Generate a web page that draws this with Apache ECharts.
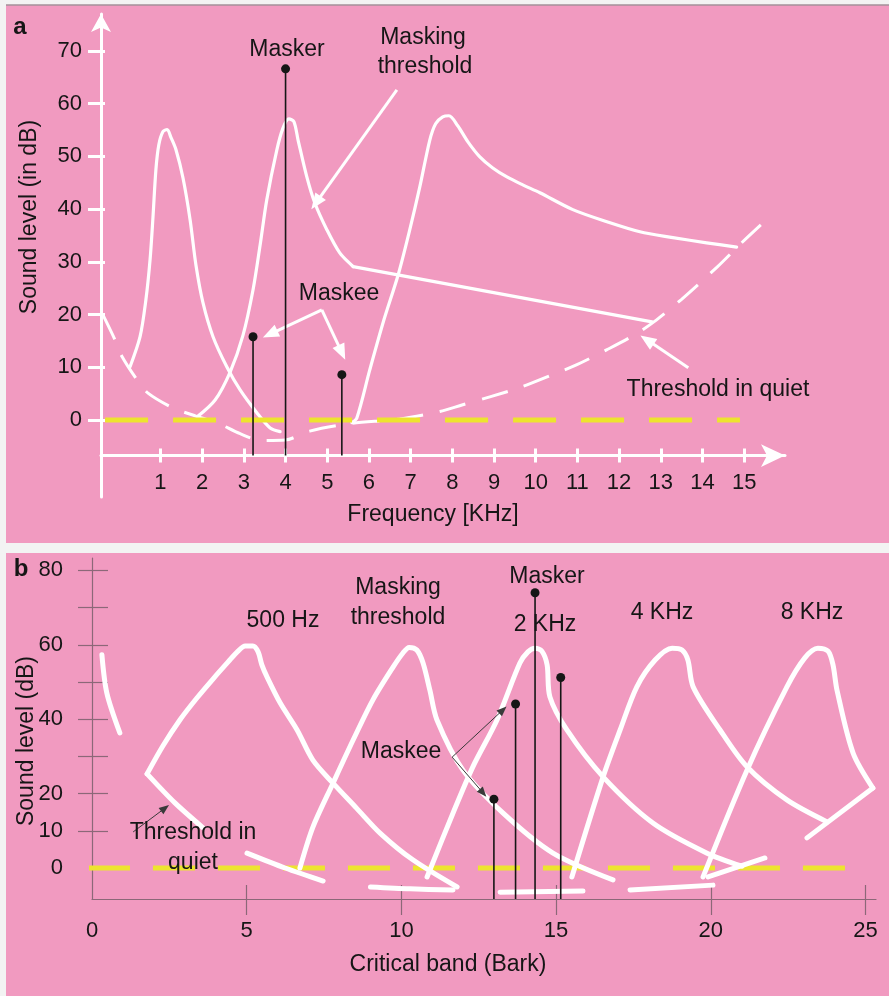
<!DOCTYPE html>
<html>
<head>
<meta charset="utf-8">
<script src="https://cdn.jsdelivr.net/npm/echarts@6/dist/echarts.min.js"></script>
<style>
  html, body { margin: 0; padding: 0; background: #f3f3f3; }
  #chart { width: 889px; height: 996px; }
</style>
</head>
<body>
<div id="chart"></div>
<script>
// ---------- Panel a: masking in the frequency domain (kHz / dB) ----------
const aXTicks = [1, 2, 3, 4, 5, 6, 7, 8, 9, 10, 11, 12, 13, 14, 15];
const aYTicks = [0, 10, 20, 30, 40, 50, 60, 70];
const aYMin = -14.6, aYMax = 77.0, aXMin = -0.427, aXMax = 15.98;
const aAxisFloor = -6.75;               // level at which the frequency axis is drawn

const aThresholdQuiet = [[-0.38, 19.95], [-0.09, 15.2], [0.08, 12.0], [0.44, 7.6], [0.70, 5.1], [1.30, 2.3],
  [1.83, 0.8], [2.35, -0.5], [2.91, -2.6], [3.43, -3.9], [3.99, -3.8], [4.58, -2.1], [5.54, -0.7], [6.74, 0.2],
  [7.70, 1.6], [8.25, 2.9], [8.90, 4.4], [9.60, 6.1], [10.34, 8.4], [10.99, 10.5], [11.70, 13.3], [12.38, 16.2],
  [12.90, 19.0], [13.50, 22.9], [14.35, 29.0], [14.90, 33.3], [15.40, 37.0]];
const aMask1k = [[0.27, 10.1], [0.51, 15.8], [0.65, 22.8], [0.75, 30.4], [0.82, 38.5], [0.89, 47.5], [0.96, 52.2],
  [1.06, 54.7], [1.16, 55.1], [1.25, 53.6], [1.37, 51.3], [1.54, 45.9], [1.71, 38.0], [1.85, 29.4], [2.02, 22.2],
  [2.26, 15.8], [2.59, 10.1], [2.91, 5.7], [3.31, 1.4], [3.63, -1.5], [3.87, -2.2]];
const aMask4kPeak = [[1.88, 0.6], [2.31, 3.8], [2.67, 9.1], [2.98, 16.1], [3.22, 24.7], [3.39, 33.2], [3.55, 41.8],
  [3.79, 51.2], [3.94, 55.4], [4.08, 57.1], [4.20, 56.6], [4.30, 53.1], [4.51, 46.1], [4.70, 41.2], [4.99, 36.1],
  [5.30, 31.7], [5.62, 29.1]];
const aMask4kTail = [[5.62, 29.1], [12.79, 18.6]];
const aMask8k = [[5.59, -0.5], [5.71, 0.4], [6.02, 9.5], [6.36, 19.0], [6.70, 27.5], [6.98, 36.1], [7.22, 44.2],
  [7.46, 53.1], [7.60, 56.2], [7.77, 57.5], [7.92, 57.7], [8.13, 55.8], [8.37, 52.8], [8.66, 49.9], [8.97, 47.8],
  [9.31, 46.1], [9.69, 44.6], [10.10, 43.1], [10.89, 39.9], [11.71, 37.6], [12.50, 35.7], [13.29, 34.6],
  [14.10, 33.6], [14.82, 32.8]];
const aZeroLine = [[-0.33, 0], [14.9, 0]];
const aMasker = [4.0, 66.6];
const aMaskees = [[3.22, 15.8], [5.35, 8.6]];
const aArrows = [
  [[6.67, 62.6], [4.73, 41.2]],     // "Masking threshold"
  [[4.87, 20.9], [3.63, 16.3]],     // "Maskee", left branch
  [[4.87, 20.9], [5.35, 12.8]],     // "Maskee", right branch
  [[13.66, 9.9], [12.67, 15.2]]     // "Threshold in quiet"
];

// ---------- Panel b: masking on the critical band scale (Bark / dB) ----------
const bXTicks = [5, 10, 15, 20, 25];
const bXLabels = [0, 5, 10, 15, 20, 25];
const bYTicks = [10, 20, 30, 40, 50, 60, 70, 80];
const bYLabels = [0, 10, 20, 40, 60, 80];
const bXMin = 0, bXMax = 25.34, bYMin = -8.33, bYMax = 83.33;

const bThresholdPieces = [
  [[0.32, 57.3], [0.48, 47.0], [0.90, 36.3]],
  [[1.78, 25.3], [2.68, 17.5], [3.59, 10.8]],
  [[5.01, 4.0], [6.24, 0.0], [7.47, -3.5]],
  [[9.00, -5.1], [10.28, -5.6], [11.67, -5.9]],
  [[13.19, -6.5], [15.87, -6.2]],
  [[17.39, -5.9], [20.07, -4.6]],
  [[19.91, -2.4], [21.75, 2.7]],
  [[23.11, 8.1], [25.24, 21.5]]
];
const bMask500 = [[1.78, 25.3], [2.29, 32.8], [2.84, 39.8], [3.39, 45.7], [3.91, 50.8], [4.40, 55.4], [4.72, 58.3],
  [4.95, 59.7], [5.20, 59.7], [5.37, 58.1], [5.49, 54.6], [5.66, 51.3], [6.08, 44.4], [6.63, 37.1], [7.14, 29.0],
  [7.79, 22.8], [8.55, 16.1], [9.31, 9.4], [10.37, 2.2], [11.80, -5.1]];
const bMask1k = [[6.72, 0.0], [7.14, 11.0], [7.79, 22.8], [8.44, 34.4], [9.08, 45.2], [9.73, 54.0], [10.05, 57.8],
  [10.25, 59.3], [10.50, 58.6], [10.70, 55.1], [10.92, 47.8], [11.15, 39.8], [11.99, 26.3], [13.28, 14.8], [14.90, 4.0], [16.84, -3.2]];
const bMask2k = [[10.83, -2.4], [11.67, 14.8], [12.31, 27.2], [13.09, 39.8], [13.83, 55.1], [14.09, 58.1], [14.32, 59.1],
  [14.54, 58.3], [14.71, 54.6], [14.80, 46.0], [15.35, 37.1], [16.52, 24.5], [18.13, 12.1], [19.88, 4.0], [21.01, 0.5]];
const bMask4k = [[15.51, -2.4], [16.52, 24.5], [17.07, 37.1], [17.61, 48.7], [18.20, 55.9], [18.75, 59.1], [19.07, 58.6],
  [19.26, 55.9], [19.43, 48.7], [20.30, 37.1], [21.17, 27.2], [22.46, 18.3], [23.76, 12.4]];
const bMask8k = [[19.75, -2.4], [21.17, 26.3], [22.46, 48.7], [23.04, 56.5], [23.46, 59.1], [23.79, 58.3],
  [23.95, 54.6], [24.08, 47.8], [24.60, 30.9], [25.24, 21.5]];
const bZeroLine = [[-0.13, 0], [24.37, 0]];
const bMasker = [14.32, 74.0];
const bMaskees = [[12.99, 18.5], [13.69, 44.1], [15.15, 51.2]];
const bArrows = [
  [[11.64, 29.8], [13.28, 42.5]],   // "Maskee" upper
  [[11.64, 29.8], [12.64, 20.2]],   // "Maskee" lower
  [[1.33, 9.7], [2.36, 16.1]]       // "Threshold in quiet"
];

// ---------- styling ----------
const FONT = '"Liberation Sans", Arial, Helvetica, sans-serif';
const PINK = '#F19AC0';
const YELLOW = '#EDE42E';
const INK = '#161616';
const AXIS_B = '#8c6878';

function curve(data, gi, width, extra) {
  return Object.assign({
    type: 'line', xAxisIndex: gi * 2, yAxisIndex: gi * 2, data: data,
    symbol: 'none', smooth: 0.3, clip: false, silent: true, animation: false, z: 3,
    lineStyle: { color: '#fff', width: width, cap: 'round', join: 'round' }
  }, extra || {});
}
function stem(pt, floor, gi) {
  return {
    type: 'line', xAxisIndex: gi * 2, yAxisIndex: gi * 2, animation: false, silent: true, clip: false, z: 6,
    showSymbol: true,
    data: [{ value: [pt[0], floor], symbol: 'none' }, { value: pt, symbol: 'circle', symbolSize: 9 }],
    lineStyle: { color: INK, width: 1.6 }, itemStyle: { color: INK }
  };
}
function arrowSet(list, gi, color, width, size) {
  return {
    type: 'line', xAxisIndex: gi * 2, yAxisIndex: gi * 2, data: [], silent: true, animation: false, z: 5,
    markLine: {
      silent: true, animation: false, symbol: ['none', 'triangle'], symbolSize: size,
      lineStyle: { color: color, width: width, type: 'solid', opacity: 1 }, label: { show: false },
      emphasis: { disabled: true },
      data: list.map(a => [{ coord: a[0] }, { coord: a[1] }])
    }
  };
}
function txt(text, x, y, size, extra) {
  return Object.assign({
    type: 'text', x: x, y: y, z: 100,
    style: { text: text, font: size + 'px ' + FONT, fill: INK, align: 'center', verticalAlign: 'middle' }
  }, extra || {});
}

const aPxPerUnit = 483 / (aYMax - aYMin);
const aXOffset = -(aAxisFloor - aYMin) * aPxPerUnit;

const series = [
  // panel a
  curve(aThresholdQuiet, 0, 3, { lineStyle: { color: '#fff', width: 3, type: [27, 17], cap: 'butt' } }),
  curve(aMask1k, 0, 3.2),
  curve(aMask4kPeak, 0, 3.2),
  curve(aMask4kTail, 0, 3.2, { smooth: false }),
  curve(aMask8k, 0, 3.2),
  curve(aZeroLine, 0, 5, { smooth: false, z: 4, lineStyle: { color: YELLOW, width: 5, type: [43, 25], cap: 'butt' } }),
  stem(aMasker, aAxisFloor, 0),
  ...aMaskees.map(p => stem(p, aAxisFloor, 0)),
  arrowSet(aArrows, 0, '#fff', 3, [13, 16]),
  // panel b
  curve(bZeroLine, 1, 5, { smooth: false, z: 2, lineStyle: { color: YELLOW, width: 5, type: [42, 23], cap: 'butt' } }),
  ...bThresholdPieces.map(p => curve(p, 1, 5)),
  curve(bMask500, 1, 5),
  curve(bMask1k, 1, 5),
  curve(bMask2k, 1, 5),
  curve(bMask4k, 1, 5),
  curve(bMask8k, 1, 5),
  stem(bMasker, bYMin, 1),
  ...bMaskees.map(p => stem(p, bYMin, 1)),
  arrowSet(bArrows, 1, '#3a3a3a', 1, [8, 10])
];

const labelStyle = { color: INK, fontSize: 22, fontFamily: FONT };

const option = {
  backgroundColor: '#f3f3f3',
  animation: false,
  grid: [
    { left: 101, top: 14, width: 684, height: 483 },
    { left: 92, top: 558, width: 784, height: 341 }
  ],
  xAxis: [
    { gridIndex: 0, type: 'value', position: 'bottom', min: aXMin, max: aXMax, offset: aXOffset,
      axisLine: { onZero: false, symbol: ['none', 'arrow'], symbolSize: [17, 24], lineStyle: { color: '#fff', width: 3 } },
      axisTick: { customValues: aXTicks, length: 7, lineStyle: { color: '#fff', width: 3 } },
      axisLabel: Object.assign({ customValues: aXTicks, margin: 16 }, labelStyle),
      splitLine: { show: false } },
    { gridIndex: 0, type: 'value', position: 'bottom', min: aXMin, max: aXMax, offset: aXOffset,
      axisLine: { show: false, onZero: false },
      axisTick: { inside: true, customValues: aXTicks, length: 7, lineStyle: { color: '#fff', width: 3 } },
      axisLabel: { show: false }, splitLine: { show: false } },
    { gridIndex: 1, type: 'value', position: 'bottom', min: bXMin, max: bXMax,
      axisLine: { onZero: false, lineStyle: { color: AXIS_B, width: 1.2 } },
      axisTick: { customValues: bXTicks, length: 16, lineStyle: { color: AXIS_B, width: 1.2 } },
      axisLabel: Object.assign({ customValues: bXLabels, margin: 21 }, labelStyle),
      splitLine: { show: false } },
    { gridIndex: 1, type: 'value', position: 'bottom', min: bXMin, max: bXMax,
      axisLine: { show: false, onZero: false },
      axisTick: { inside: true, customValues: bXTicks, length: 14, lineStyle: { color: AXIS_B, width: 1.2 } },
      axisLabel: { show: false }, splitLine: { show: false } }
  ],
  yAxis: [
    { gridIndex: 0, type: 'value', position: 'left', min: aYMin, max: aYMax,
      axisLine: { onZero: false, symbol: ['none', 'arrow'], symbolSize: [15, 18], lineStyle: { color: '#fff', width: 3 } },
      axisTick: { customValues: aYTicks, length: 13, lineStyle: { color: '#fff', width: 3 } },
      axisLabel: Object.assign({ customValues: aYTicks, margin: 19 }, labelStyle),
      splitLine: { show: false } },
    { gridIndex: 0, type: 'value', position: 'left', min: aYMin, max: aYMax,
      axisLine: { show: false, onZero: false },
      axisTick: { inside: true, customValues: aYTicks, length: 4, lineStyle: { color: '#fff', width: 3 } },
      axisLabel: { show: false }, splitLine: { show: false } },
    { gridIndex: 1, type: 'value', position: 'left', min: bYMin, max: bYMax,
      axisLine: { onZero: false, lineStyle: { color: AXIS_B, width: 1.2 } },
      axisTick: { customValues: bYTicks, length: 14, lineStyle: { color: AXIS_B, width: 1.2 } },
      axisLabel: Object.assign({ customValues: bYLabels, margin: 29 }, labelStyle),
      splitLine: { show: false } },
    { gridIndex: 1, type: 'value', position: 'left', min: bYMin, max: bYMax,
      axisLine: { show: false, onZero: false },
      axisTick: { inside: true, customValues: bYTicks, length: 16, lineStyle: { color: AXIS_B, width: 1.2 } },
      axisLabel: { show: false }, splitLine: { show: false } }
  ],
  graphic: [
    { type: 'rect', z: -100, shape: { x: 6, y: 5, width: 883, height: 538 }, style: { fill: PINK } },
    { type: 'line', z: -99, shape: { x1: 6, y1: 5, x2: 889, y2: 5 }, style: { stroke: '#a3909a', lineWidth: 1.5 } },
    { type: 'rect', z: -100, shape: { x: 6, y: 553, width: 883, height: 443 }, style: { fill: PINK } },
    // panel a text
    txt('a', 20, 27, 24, { style: { text: 'a', font: 'bold 24px ' + FONT, fill: INK, align: 'center', verticalAlign: 'middle' } }),
    txt('Masker', 287, 50, 23),
    txt('Masking', 423, 38, 23),
    txt('threshold', 425, 67, 23),
    txt('Maskee', 339, 294, 23),
    txt('Threshold in quiet', 718, 390, 23),
    txt('Frequency [KHz]', 433, 515, 23),
    txt('Sound level (in dB)', 30, 217, 23, { rotation: Math.PI / 2 }),
    // panel b text
    txt('b', 21, 569, 24, { style: { text: 'b', font: 'bold 24px ' + FONT, fill: INK, align: 'center', verticalAlign: 'middle' } }),
    txt('500 Hz', 283, 621, 23),
    txt('Masking', 398, 588, 23),
    txt('threshold', 398, 618, 23),
    txt('Masker', 547, 577, 23),
    txt('2 KHz', 545, 625, 23),
    txt('4 KHz', 662, 613, 23),
    txt('8 KHz', 812, 613, 23),
    txt('Maskee', 401, 752, 23),
    txt('Threshold in', 193, 833, 23),
    txt('quiet', 193, 863, 23),
    txt('Critical band (Bark)', 448, 965, 23),
    txt('Sound level (dB)', 27, 741, 23, { rotation: Math.PI / 2 })
  ],
  series: series
};

const chart = echarts.init(document.getElementById('chart'), null, { renderer: 'canvas' });
chart.setOption(option);
</script>
</body>
</html>
